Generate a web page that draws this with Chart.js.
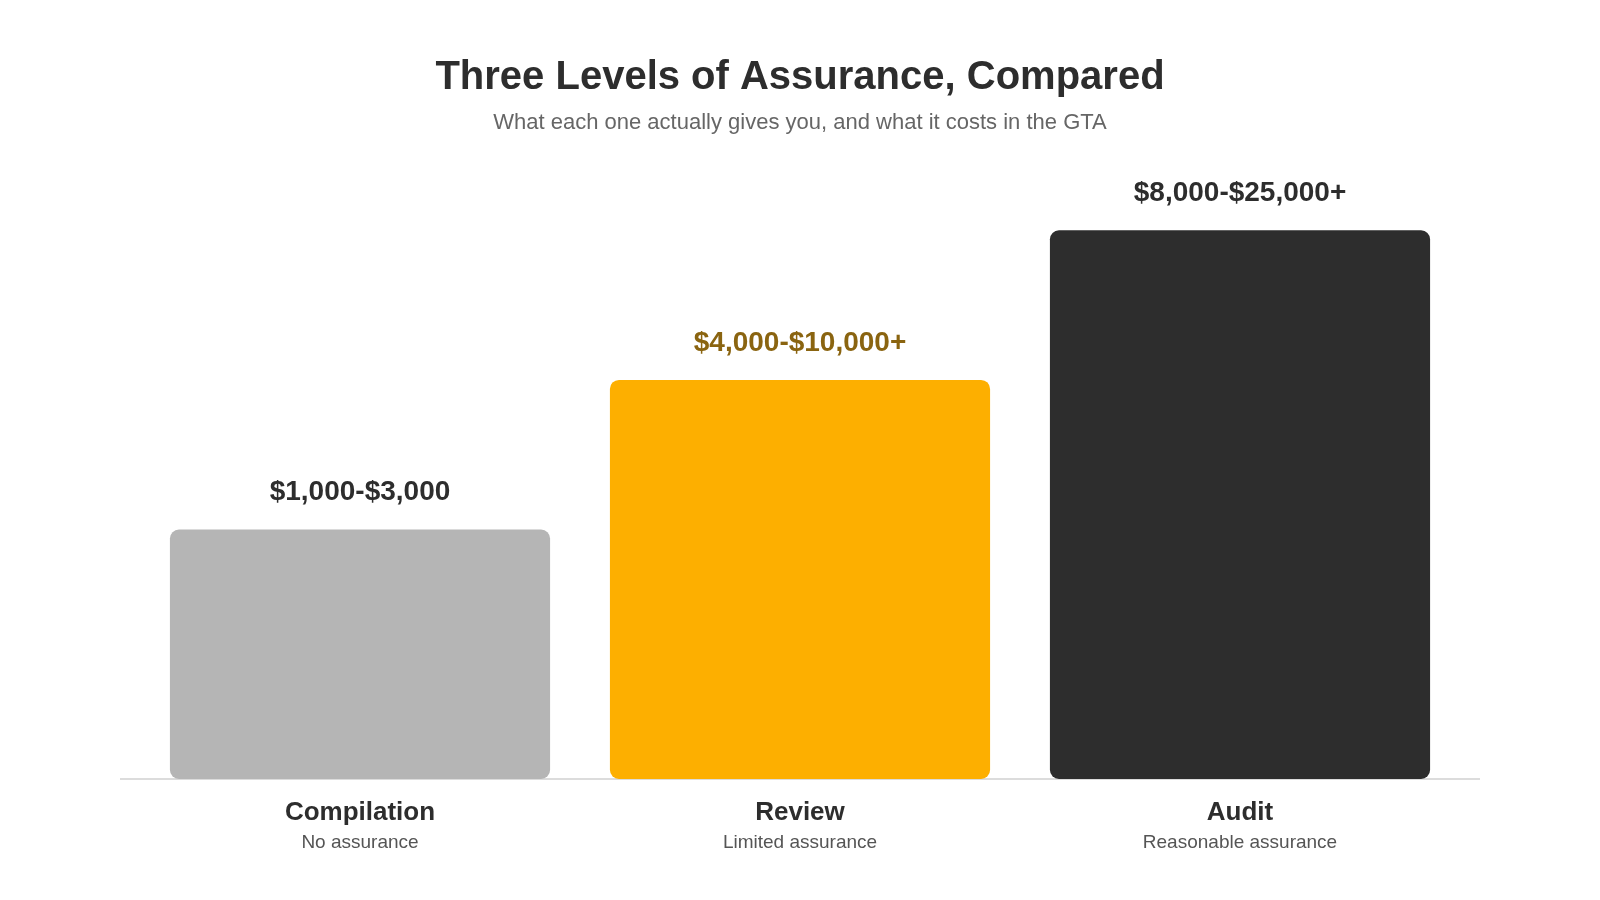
<!DOCTYPE html>
<html>
<head>
<meta charset="utf-8">
<title>Three Levels of Assurance, Compared</title>
<script src="https://cdn.jsdelivr.net/npm/chart.js@4.4.1/dist/chart.umd.min.js"></script>
<style>
  html, body { margin: 0; padding: 0; background: #fff; }
  #wrap { width: 1600px; height: 900px; position: relative; }
</style>
</head>
<body>
<div id="wrap"><canvas id="bar-chart"></canvas></div>
<script>
// data
const categories = ["Compilation", "Review", "Audit"];
const subLabels = ["No assurance", "Limited assurance", "Reasonable assurance"];
const priceLabels = ["$1,000-$3,000", "$4,000-$10,000+", "$8,000-$25,000+"];
const values = [5, 8, 11];

const barColors = ["#b5b5b5", "#fdaf00", "#2d2d2d"];
const priceColors = ["#2d2d2d", "#8a6410", "#2d2d2d"];
const FONT = "'Liberation Sans', Arial, sans-serif";

// value labels above bars, two-line category labels, baseline
const decorations = {
  id: "decorations",
  beforeDatasetsDraw(chart) {
    const ctx = chart.ctx;
    const area = chart.chartArea;
    ctx.save();
    ctx.strokeStyle = "#dcdcdc";
    ctx.lineWidth = 2;
    ctx.beginPath();
    ctx.moveTo(area.left - 20, area.bottom);
    ctx.lineTo(area.right + 20, area.bottom);
    ctx.stroke();
    ctx.restore();
  },
  afterDatasetsDraw(chart) {
    const ctx = chart.ctx;
    const meta = chart.getDatasetMeta(0);
    const area = chart.chartArea;
    ctx.save();
    ctx.textAlign = "center";
    ctx.textBaseline = "middle";
    meta.data.forEach((bar, i) => {
      ctx.font = "bold 28px " + FONT;
      ctx.fillStyle = priceColors[i];
      ctx.fillText(priceLabels[i], bar.x, bar.y - 37);

      ctx.font = "bold 26px " + FONT;
      ctx.fillStyle = "#2d2d2d";
      ctx.fillText(categories[i], bar.x, area.bottom + 34);

      ctx.font = "19px " + FONT;
      ctx.fillStyle = "#555555";
      ctx.fillText(subLabels[i], bar.x, area.bottom + 64);
    });
    ctx.restore();
  }
};

new Chart(document.getElementById("bar-chart"), {
  type: "bar",
  data: {
    labels: categories,
    datasets: [
      {
        label: "Cost",
        data: values,
        backgroundColor: barColors,
        borderRadius: 9,
        borderSkipped: false,
        barPercentage: 0.9,
        categoryPercentage: 0.96,
      },
    ],
  },
  options: {
    responsive: true,
    maintainAspectRatio: false,
    animation: false,
    layout: { padding: { left: 140, right: 140, top: 0, bottom: 121 } },
    scales: {
      x: { display: false },
      y: { display: false, min: 0, max: 12 },
    },
    plugins: {
      legend: { display: false },
      tooltip: { enabled: false },
      title: {
        display: true,
        text: "Three Levels of Assurance, Compared",
        color: "#2d2d2d",
        font: { family: FONT, size: 40, weight: "bold", lineHeight: 1.2 },
        padding: { top: 54, bottom: 8 },
      },
      subtitle: {
        display: true,
        text: "What each one actually gives you, and what it costs in the GTA",
        color: "#666666",
        font: { family: FONT, size: 22, lineHeight: 1.2 },
        padding: { top: 0, bottom: 44 },
      },
    },
  },
  plugins: [decorations],
});
</script>
</body>
</html>
